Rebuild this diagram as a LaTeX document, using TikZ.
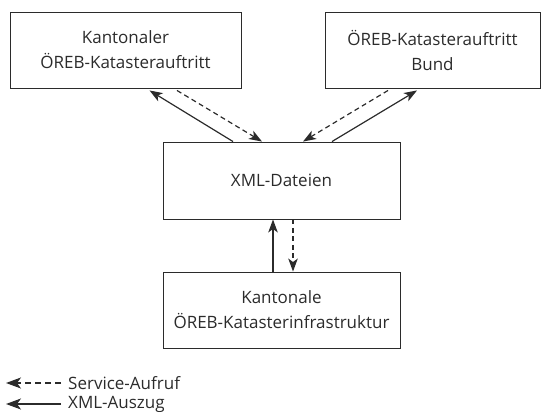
\documentclass[tikz,border=0pt]{standalone}
\usepackage{fontspec}
\setmainfont{Open Sans}
\usetikzlibrary{arrows.meta,calc}
\definecolor{ink}{HTML}{2B2B2B}
\tikzset{
  box/.style={draw=ink, line width=0.9pt, rectangle, align=center, text=ink,
    font=\fontsize{17}{25}\selectfont, inner sep=0pt},
  head/.style={-{Stealth[length=13pt,width=9.5pt,inset=3.5pt]}},
  solidarr/.style={draw=ink, line width=1.2pt, head},
  dasharr/.style={draw=ink, line width=1.2pt, dash pattern=on 5pt off 3.5pt, head},
  leghead/.style={-{Stealth[length=15pt,width=11pt,inset=4pt]}},
  legdash/.style={draw=ink, line width=1.3pt, dash pattern=on 6pt off 4pt, leghead},
  legsolid/.style={draw=ink, line width=1.3pt, leghead},
  legtext/.style={anchor=west, text=ink, font=\fontsize{17}{20}\selectfont, inner sep=0pt}
}
\begin{document}
\begin{tikzpicture}[x=1pt,y=-1pt]
\useasboundingbox (0,0) rectangle (549,412);
\node[box, minimum width=231pt, minimum height=76pt] (b1) at (125.5,50) {Kantonaler\\ÖREB-Katasterauftritt};
\node[box, minimum width=215pt, minimum height=76pt] (b2) at (432.5,50) {ÖREB-Katasterauftritt\\Bund};
\node[box, minimum width=237pt, minimum height=77pt] (b3) at (281.5,180.5) {XML-Dateien};
\node[box, minimum width=237pt, minimum height=76pt] (b4) at (281.5,310) {Kantonale\\ÖREB-Katasterinfrastruktur};
% top-left pair
\draw[solidarr] ($(b3.north)+(-48.5,0)$) -- ($(b1.south)+(24,2)$);
\draw[dasharr] ($(b1.south)+(51.5,2)$) -- ($(b3.north)+(-19.5,0)$);
% top-right pair
\draw[dasharr] ($(b2.south)+(-44.5,2)$) -- ($(b3.north)+(21.5,0)$);
\draw[solidarr] ($(b3.north)+(50.5,0)$) -- ($(b2.south)+(-15.5,2)$);
% vertical pair
\draw[solidarr] ($(b4.north)+(-8.5,0)$) -- ($(b3.south)+(-8.5,0)$);
\draw[dasharr] ($(b3.south)+(11.5,0)$) -- ($(b4.north)+(11.5,0)$);
% legend
\node[legtext] (l1) at (68,383) {Service-Aufruf};
\node[legtext] (l2) at (68,404) {XML-Auszug};
\coordinate (e1) at (6,383);
\coordinate (e2) at (6,404);
\draw[legdash] ($(l1.west)+(-7,0)$) -- (e1);
\draw[legsolid] ($(l2.west)+(-7,0)$) -- (e2);
\end{tikzpicture}
\end{document}
